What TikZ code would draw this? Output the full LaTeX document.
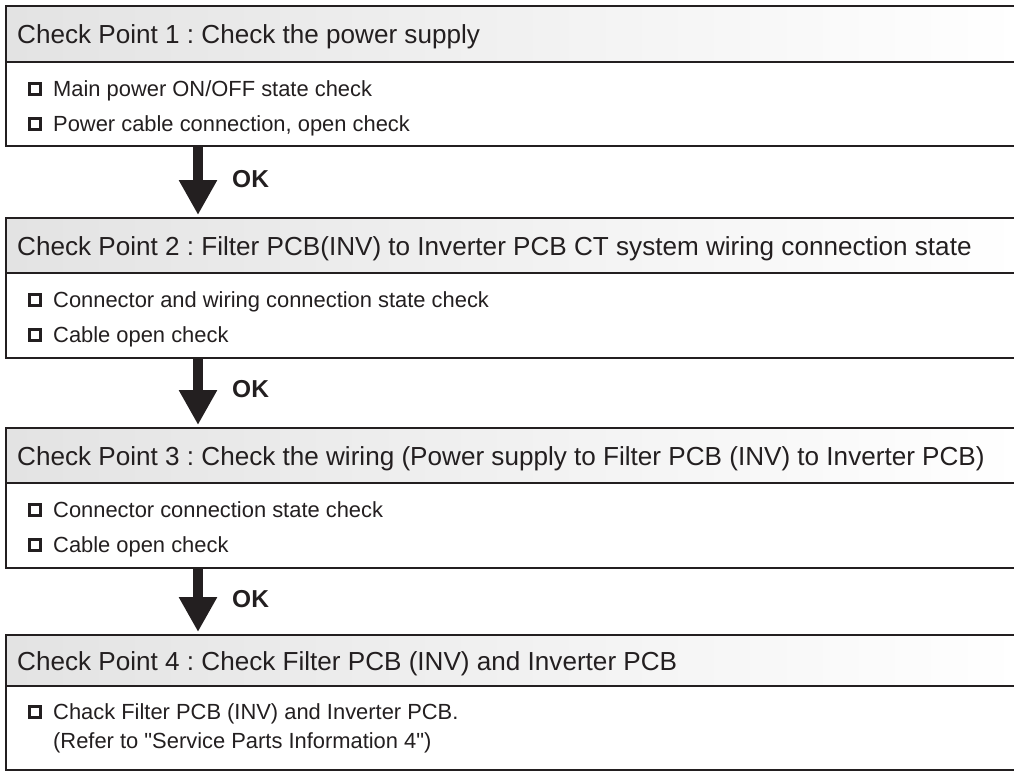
\documentclass[tikz,border=0pt]{standalone}
\usepackage{fontspec}
\newfontfamily\lsans{Liberation Sans}
\usetikzlibrary{arrows.meta}
\definecolor{ink}{HTML}{231F20}
\tikzset{
  hdbox/.style={draw=ink, line width=2.4pt, left color=black!11, right color=white, shading angle=90,
    rectangle, inner sep=0pt, anchor=north west, minimum width=1015pt},
  bdbox/.style={draw=ink, line width=2.4pt, fill=white, rectangle, inner sep=0pt, anchor=north west, minimum width=1015pt},
  hdtext/.style={anchor=base west, inner sep=0pt, text=ink, font=\lsans\fontsize{26.1}{28}\selectfont\frenchspacing},
  item/.style={anchor=base west, inner sep=0pt, text=ink, font=\lsans\fontsize{21.9}{29}\selectfont\frenchspacing},
  chk/.style={draw=ink, line width=2.8pt, rectangle, inner sep=0pt, minimum size=11.2pt, fill=white},
  oktext/.style={anchor=base west, inner sep=0pt, text=ink, font=\lsans\fontsize{24.5}{26}\selectfont\bfseries},
  bigarr/.style={draw=ink, line width=10pt, -{Triangle[width=36pt,length=35pt]}, shorten >=2pt}
}
\begin{document}
\begin{tikzpicture}[x=1pt,y=-1pt]
\useasboundingbox (0,0) rectangle (1014,771);
\coordinate (ax) at (198,0);
% Box 1
\node[hdbox, minimum height=56pt] (h1) at (5,5) {};
\node[bdbox, minimum height=84pt] (b1) at (5,61) {};
\node[hdtext] (t1) at (17,43) {Check Point 1 : Check the power supply};
\node[chk] (c11) at (35,89) {};
\node[item] (i11) at (53,96) {Main power ON/OFF state check};
\node[chk] (c12) at (35,124) {};
\node[item] (i12) at (53,131) {Power cable connection, open check};
% Box 2
\node[hdbox, minimum height=55pt] (h2) at (5,217) {};
\node[bdbox, minimum height=85pt] (b2) at (5,272) {};
\node[hdtext] (t2) at (17,255) {Check Point 2 : Filter PCB(INV) to Inverter PCB CT system wiring connection state};
\node[chk] (c21) at (35,300) {};
\node[item] (i21) at (53,307) {Connector and wiring connection state check};
\node[chk] (c22) at (35,335) {};
\node[item] (i22) at (53,342) {Cable open check};
% Box 3
\node[hdbox, minimum height=55pt] (h3) at (5,427) {};
\node[bdbox, minimum height=85pt] (b3) at (5,482) {};
\node[hdtext] (t3) at (17,465) {Check Point 3 : Check the wiring (Power supply to Filter PCB (INV) to Inverter PCB)};
\node[chk] (c31) at (35,510) {};
\node[item] (i31) at (53,517) {Connector connection state check};
\node[chk] (c32) at (35,545) {};
\node[item] (i32) at (53,552) {Cable open check};
% Box 4
\node[hdbox, minimum height=51pt] (h4) at (5,634) {};
\node[bdbox, minimum height=84pt] (b4) at (5,685) {};
\node[hdtext] (t4) at (17,670) {Check Point 4 : Check Filter PCB (INV) and Inverter PCB};
\node[chk] (c41) at (35,712) {};
\node[item] (i41) at (53,719) {Chack Filter PCB (INV) and Inverter PCB.};
\node[item] (i42) at (53,748) {(Refer to "Service Parts Information 4")};
% Arrows
\draw[bigarr] (b1.south -| ax) -- (h2.north -| ax);
\draw[bigarr] (b2.south -| ax) -- (h3.north -| ax);
\draw[bigarr] (b3.south -| ax) -- (h4.north -| ax);
\node[oktext] (ok1) at (232,187) {OK};
\node[oktext] (ok2) at (232,397) {OK};
\node[oktext] (ok3) at (232,607) {OK};
\end{tikzpicture}
\end{document}
